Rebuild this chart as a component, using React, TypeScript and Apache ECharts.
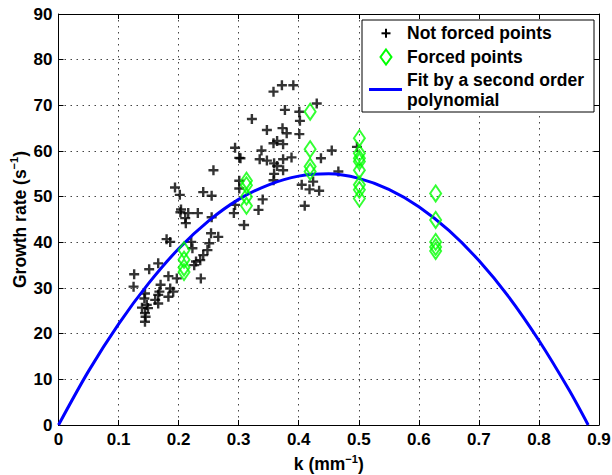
import React, { useEffect, useRef } from "react";
import * as echarts from "echarts";

const xTicks = [0, 0.1, 0.2, 0.3, 0.4, 0.5, 0.6, 0.7, 0.8, 0.9];
const yTicks = [0, 10, 20, 30, 40, 50, 60, 70, 80, 90];

const notForcedPoints: number[][] = [
  [0.194, 52.0], [0.202, 50.4], [0.241, 51.0], [0.255, 50.2], [0.204, 47.2], [0.203, 46.6],
  [0.216, 46.4], [0.232, 46.4], [0.211, 45.3], [0.212, 44.2], [0.254, 42.0], [0.18, 40.7],
  [0.186, 40.1], [0.221, 40.1], [0.223, 38.7], [0.251, 39.8], [0.248, 38.3], [0.241, 37.2],
  [0.236, 36.1], [0.229, 35.8], [0.226, 35.0], [0.166, 35.4], [0.151, 34.1], [0.126, 33.0],
  [0.183, 32.6], [0.197, 32.1], [0.237, 32.1], [0.17, 30.7], [0.125, 30.3], [0.186, 29.9],
  [0.191, 29.2], [0.168, 29.2], [0.144, 28.8], [0.166, 28.5], [0.183, 28.1], [0.161, 27.4],
  [0.143, 27.7], [0.166, 26.6], [0.147, 26.3], [0.139, 25.7], [0.149, 25.6], [0.144, 24.5],
  [0.145, 23.7], [0.144, 22.6],
  [0.322, 67.0], [0.347, 64.6], [0.358, 61.7], [0.364, 62.2], [0.294, 60.7], [0.338, 60.1],
  [0.301, 58.5], [0.303, 58.4], [0.335, 58.2], [0.347, 57.9], [0.359, 57.3], [0.364, 56.7],
  [0.258, 55.8], [0.359, 55.0], [0.358, 53.6], [0.301, 53.5], [0.301, 51.8], [0.34, 49.4],
  [0.294, 48.2], [0.333, 47.1], [0.292, 46.4], [0.255, 45.5], [0.309, 43.8], [0.266, 41.2],
  [0.372, 74.4], [0.391, 74.4], [0.358, 73.0], [0.43, 70.4], [0.377, 69.0], [0.401, 68.6],
  [0.402, 66.6], [0.373, 65.0], [0.38, 63.9], [0.401, 63.7], [0.374, 61.5], [0.455, 60.1],
  [0.388, 58.6], [0.374, 58.2], [0.437, 58.4], [0.374, 55.8], [0.466, 55.5], [0.405, 52.6],
  [0.424, 53.3], [0.418, 51.6], [0.434, 51.3], [0.41, 48.0], [0.497, 60.9],
];

const forcedPoints: number[][] = [
  [0.209, 38.3], [0.209, 36.2], [0.209, 34.5], [0.209, 33.5],
  [0.313, 53.5], [0.313, 52.5], [0.313, 50.0], [0.313, 48.0],
  [0.419, 68.6], [0.419, 60.4], [0.419, 56.6], [0.419, 55.5],
  [0.501, 62.8], [0.501, 59.5], [0.501, 58.4], [0.501, 57.7], [0.501, 55.8], [0.501, 52.6],
  [0.501, 51.5], [0.501, 49.6],
  [0.628, 50.7], [0.628, 44.9], [0.628, 40.1], [0.628, 39.0], [0.628, 38.1],
];

const fitK = [0, 0.05, 0.1, 0.15, 0.2, 0.25, 0.3, 0.35, 0.4, 0.45, 0.5, 0.55, 0.6, 0.65, 0.7, 0.75, 0.8, 0.85, 0.882];
const fitY = [0, 11.8, 22.1, 31.0, 38.6, 44.7, 49.4, 52.6, 54.5, 55.0, 54.0, 51.6, 47.8, 42.6, 36.0, 28.0, 18.5, 7.7, 0];

const legendLabels = ["Not forced points", "Forced points", "Fit by a second order\npolynomial"];

const FONT = "'Liberation Sans', Arial, Helvetica, sans-serif";
const PLUS = "path://M3.8,0h2.4v10h-2.4zM0,3.8h10v2.4h-10z";

export default function App() {
  const ref = useRef<HTMLDivElement>(null);
  useEffect(() => {
    if (!ref.current) return;
    const chart = echarts.init(ref.current, undefined, { renderer: "svg" });
    const grid = { left: 58.5, right: 13, top: 14, bottom: 50, outerBoundsMode: "none", containLabel: false };
    const axisLabel = { color: "#000", fontWeight: "bold", fontSize: 17, fontFamily: FONT, margin: 6 };
    const splitLine = { show: true, lineStyle: { color: "#444", type: [1.5, 4.5], width: 1 } };
    const axisLine = { show: true, onZero: false, lineStyle: { color: "#000", width: 1 } };
    const axisTick = { show: true, inside: true, length: 5, lineStyle: { color: "#000" } };
    const sup = { fontSize: 11, fontWeight: "bold", fontFamily: FONT, verticalAlign: "top", color: "#000" };
    const nameStyle = {
      color: "#000", fontWeight: "bold", fontSize: 17.5, fontFamily: FONT,
      rich: { sup, n: { fontSize: 17.5, fontWeight: "bold", fontFamily: FONT, color: "#000", lineHeight: 22 } },
    };
    const lx = 362, ly = 20;
    const lfont = `bold 17.5px ${FONT}`;
    chart.setOption({
      animation: false,
      grid,
      xAxis: [
        {
          type: "value", min: xTicks[0], max: xTicks[xTicks.length - 1], interval: 0.1,
          axisLine, axisTick, splitLine, axisLabel,
          name: "{n|k (mm}{sup|−1}{n|)}", nameLocation: "middle", nameGap: 28, nameMoveOverlap: false,
          nameTextStyle: nameStyle,
        },
        {
          type: "value", position: "top", min: 0, max: 0.9, interval: 0.1,
          axisLine, axisTick, splitLine: { show: false }, axisLabel: { show: false },
        },
      ],
      yAxis: [
        {
          type: "value", min: yTicks[0], max: yTicks[yTicks.length - 1], interval: 10,
          axisLine, axisTick, splitLine, axisLabel,
          name: "{n|Growth rate (s}{sup|−1}{n|)}", nameLocation: "middle", nameGap: 28, nameRotate: 90,
          nameMoveOverlap: false, nameTextStyle: nameStyle,
        },
        {
          type: "value", position: "right", min: 0, max: 90, interval: 10,
          axisLine, axisTick, splitLine: { show: false }, axisLabel: { show: false },
        },
      ],
      series: [
        {
          name: legendLabels[0], type: "scatter", data: notForcedPoints, symbol: PLUS, symbolSize: 10,
          itemStyle: { color: "#000" }, z: 2,
        },
        {
          name: legendLabels[2], type: "line", data: fitK.map((k, i) => [k, fitY[i]]), smooth: 0.3,
          showSymbol: false, lineStyle: { color: "#0000ff", width: 3 }, itemStyle: { color: "#0000ff" }, z: 3,
        },
        {
          name: legendLabels[1], type: "scatter", data: forcedPoints, symbol: "diamond", symbolSize: [11, 16],
          itemStyle: { color: "rgba(0,0,0,0)", borderColor: "#00ff00", borderWidth: 2 }, z: 4,
        },
      ],
      graphic: [
        { type: "rect", shape: { x: lx, y: ly, width: 232, height: 92 }, style: { fill: "#fff", stroke: "#000", lineWidth: 1 }, z: 10 },
        { type: "line", shape: { x1: 381.5, y1: 33.3, x2: 390.5, y2: 33.3 }, style: { stroke: "#000", lineWidth: 2 }, z: 11 },
        { type: "line", shape: { x1: 386, y1: 28.8, x2: 386, y2: 37.8 }, style: { stroke: "#000", lineWidth: 2 }, z: 11 },
        { type: "polygon", shape: { points: [[386, 49.5], [391.5, 57], [386, 64.5], [380.5, 57]] }, style: { fill: "none", stroke: "#00ff00", lineWidth: 2 }, z: 11 },
        { type: "line", shape: { x1: 369, y1: 89.5, x2: 402, y2: 89.5 }, style: { stroke: "#0000ff", lineWidth: 3 }, z: 11 },
        { type: "text", x: 407, y: 33.3, style: { text: legendLabels[0], font: lfont, fill: "#000", verticalAlign: "middle" }, z: 11 },
        { type: "text", x: 407, y: 56.7, style: { text: legendLabels[1], font: lfont, fill: "#000", verticalAlign: "middle" }, z: 11 },
        { type: "text", x: 407, y: 90.4, style: { text: legendLabels[2], font: lfont, fill: "#000", verticalAlign: "middle", lineHeight: 20 }, z: 11 },
      ],
    });
    return () => chart.dispose();
  }, []);
  return <div ref={ref} style={{ position: "absolute", left: 0, top: 0, width: 612, height: 475, background: "#fff" }} />;
}
